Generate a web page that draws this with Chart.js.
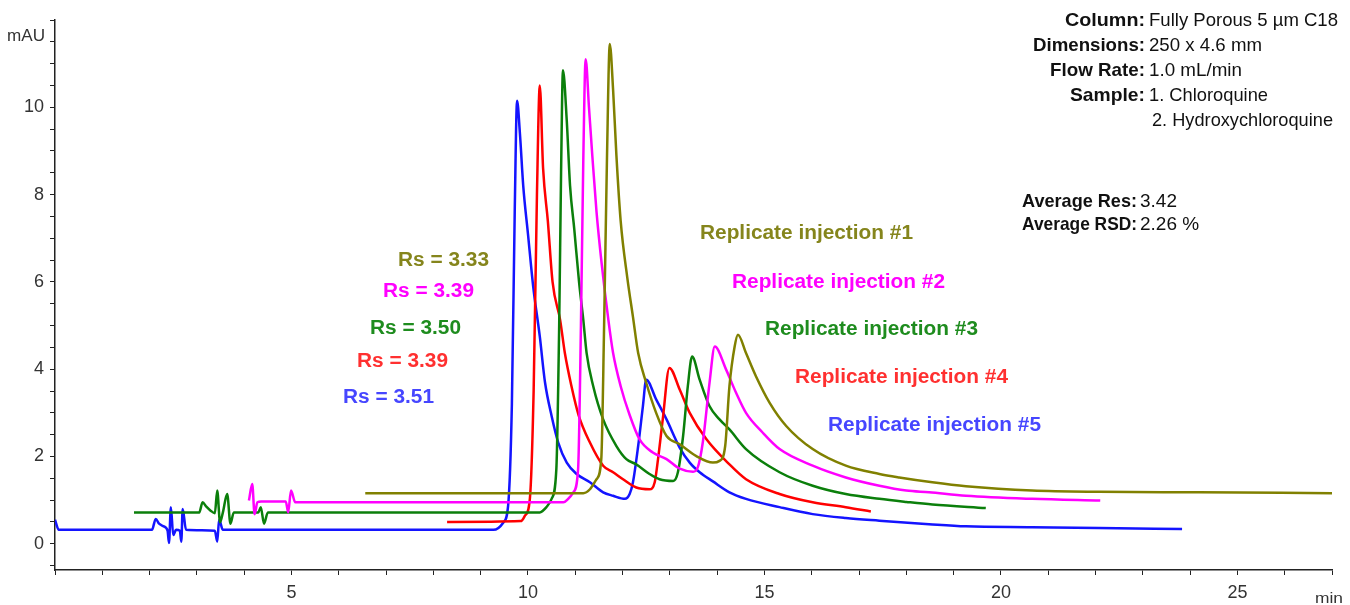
<!DOCTYPE html>
<html>
<head>
<meta charset="utf-8">
<script src="https://cdn.jsdelivr.net/npm/chart.js@4.4.0/dist/chart.umd.min.js"></script>
<style>
  html, body { margin: 0; padding: 0; background: #fff; }
  canvas { display: block; }
</style>
</head>
<body>
<canvas id="chrom" width="1350" height="605"></canvas>
<script>
var inj1Time = [6.56, 11.17, 11.31, 11.45, 11.55, 11.61, 11.67, 11.73, 11.8, 11.87, 11.96, 12.1, 12.22, 12.33, 12.5, 12.71, 12.93, 13.21, 13.56, 13.91, 14.05, 14.17, 14.26, 14.37, 14.44, 14.61, 14.82, 15.11, 15.46, 16.02, 16.72, 17.43, 17.85, 18.55, 19.26, 20.66, 22.07, 24.18, 27.0];
var inj1Abs  = [1.16, 1.16, 1.25, 1.48, 1.94, 5.0, 8.8, 11.45, 10.4, 8.9, 7.4, 6.1, 5.2, 4.37, 3.69, 3.0, 2.47, 2.28, 2.01, 1.86, 1.9, 2.24, 3.61, 4.52, 4.79, 4.37, 3.84, 3.23, 2.7, 2.17, 1.79, 1.6, 1.52, 1.41, 1.32, 1.22, 1.19, 1.18, 1.16];

var inj2Time = [4.1, 4.17, 4.22, 4.28, 4.36, 4.88, 4.93, 4.99, 5.08, 10.75, 10.85, 10.96, 11.06, 11.12, 11.17, 11.22, 11.29, 11.36, 11.45, 11.56, 11.7, 11.8, 11.96, 12.15, 12.36, 12.64, 12.93, 13.21, 13.49, 13.59, 13.7, 13.84, 13.95, 14.19, 14.4, 14.61, 14.96, 15.32, 16.02, 16.72, 17.43, 18.0, 18.48, 19.26, 20.66, 22.1];
var inj2Abs  = [0.99, 1.37, 0.68, 0.95, 0.97, 0.97, 0.72, 1.22, 0.95, 0.95, 1.03, 1.18, 1.71, 5.0, 8.8, 11.1, 10.0, 8.9, 7.6, 6.4, 5.13, 4.37, 3.61, 2.95, 2.39, 2.09, 1.94, 1.72, 1.65, 1.75, 2.35, 3.7, 4.52, 3.99, 3.46, 3.0, 2.55, 2.17, 1.79, 1.52, 1.33, 1.22, 1.18, 1.1, 1.03, 0.99];

var inj3Time = [1.67, 3.05, 3.12, 3.2, 3.29, 3.38, 3.43, 3.49, 3.55, 3.64, 3.71, 3.78, 4.3, 4.35, 4.42, 4.5, 10.25, 10.39, 10.5, 10.6, 10.66, 10.7, 10.74, 10.82, 10.89, 10.98, 11.08, 11.17, 11.24, 11.38, 11.59, 11.87, 12.08, 12.29, 12.57, 12.78, 13.07, 13.17, 13.28, 13.38, 13.47, 13.63, 13.84, 14.05, 14.26, 14.61, 15.32, 16.02, 16.72, 17.43, 18.0, 18.55, 19.68];
var inj3Abs  = [0.72, 0.72, 0.95, 0.85, 0.76, 0.7, 1.22, 0.49, 0.72, 1.14, 0.46, 0.72, 0.72, 0.84, 0.46, 0.72, 0.72, 0.84, 1.03, 1.71, 5.0, 8.5, 10.85, 9.7, 8.2, 7.2, 6.0, 5.13, 4.37, 3.61, 2.85, 2.24, 1.94, 1.82, 1.6, 1.48, 1.44, 1.64, 2.47, 3.61, 4.29, 3.76, 3.15, 2.85, 2.62, 2.17, 1.64, 1.33, 1.14, 1.03, 0.96, 0.9, 0.82];

var inj4Time = [8.29, 9.85, 9.94, 10.04, 10.12, 10.19, 10.25, 10.32, 10.42, 10.52, 10.68, 10.78, 10.92, 11.07, 11.31, 11.59, 11.8, 12.01, 12.29, 12.57, 12.68, 12.75, 12.85, 12.99, 13.21, 13.42, 13.77, 14.26, 14.61, 15.32, 16.02, 16.72, 17.25];
var inj4Abs  = [0.5, 0.52, 0.65, 1.03, 3.5, 8.0, 10.5, 8.6, 7.4, 6.0, 5.13, 4.37, 3.61, 2.95, 2.32, 1.79, 1.64, 1.48, 1.29, 1.25, 1.41, 1.94, 2.85, 4.03, 3.53, 3.0, 2.4, 1.82, 1.48, 1.14, 0.95, 0.84, 0.74];

var inj5Time = [0, 0.08, 2.05, 2.13, 2.2, 2.3, 2.38, 2.41, 2.45, 2.5, 2.56, 2.64, 2.67, 2.7, 2.77, 3.38, 3.43, 3.47, 3.55, 9.27, 9.48, 9.58, 9.66, 9.72, 9.77, 9.83, 9.9, 10.0, 10.11, 10.25, 10.36, 10.5, 10.64, 10.82, 11.03, 11.31, 11.59, 11.8, 12.05, 12.15, 12.22, 12.33, 12.43, 12.5, 12.71, 12.93, 13.21, 13.42, 13.63, 13.91, 14.26, 14.61, 15.32, 16.02, 16.72, 17.43, 18.48, 19.26, 20.66, 22.07, 23.83];
var inj5Abs  = [0.55, 0.32, 0.32, 0.57, 0.46, 0.4, 0.3, 0.02, 0.84, 0.2, 0.32, 0.3, 0.05, 0.8, 0.32, 0.3, 0.05, 0.55, 0.32, 0.32, 0.49, 0.87, 3.2, 7.6, 10.15, 9.4, 8.2, 7.1, 5.9, 4.75, 3.7, 2.93, 2.32, 1.86, 1.6, 1.41, 1.18, 1.1, 1.03, 1.14, 1.41, 2.24, 3.15, 3.76, 3.31, 2.85, 2.2, 1.86, 1.64, 1.43, 1.18, 1.03, 0.84, 0.68, 0.59, 0.53, 0.45, 0.4, 0.38, 0.36, 0.34];

var injectionNames = ['Replicate injection #1', 'Replicate injection #2', 'Replicate injection #3', 'Replicate injection #4', 'Replicate injection #5'];
var resolutions = ['3.33', '3.39', '3.50', '3.39', '3.51'];
var lineColors = ['#808000', '#ff00ff', '#0b7f0b', '#ff0000', '#1414ff'];
var textColors = ['#85851c', '#ff00ff', '#1e8c1e', '#ff3030', '#4646ff'];

var infoLabels = ['Column:', 'Dimensions:', 'Flow Rate:', 'Sample:'];
var infoValues = ['Fully Porous 5 \u00b5m C18', '250 x 4.6 mm', '1.0 mL/min', '1. Chloroquine', '2. Hydroxychloroquine'];
var summaryLabels = ['Average Res:', 'Average RSD:'];
var summaryValues = ['3.42', '2.26 %'];

var FONT = '"Liberation Sans", Arial, sans-serif';

function toPoints(ts, vs) {
    return ts.map(function(t, i) { return { x: t, y: vs[i] }; });
}

// draw text squeezed/stretched to a given width (the original uses a tight face)
function fitText(ctx, text, x, y, font, color, align, w) {
    ctx.save();
    ctx.font = font;
    ctx.fillStyle = color;
    ctx.textAlign = 'left';
    ctx.textBaseline = 'alphabetic';
    var m = ctx.measureText(text).width;
    var s = w ? w / m : 1;
    var left = align === 'right' ? x - m * s : x;
    ctx.translate(left, y);
    ctx.scale(s, 1);
    ctx.fillText(text, 0, 0);
    ctx.restore();
}

var annotations = {
    id: 'annotations',
    afterDraw: function(chart) {
        var ctx = chart.ctx;
        // axis units
        fitText(ctx, 'mAU', 7, 41, '16px ' + FONT, '#333', 'left', 38);
        fitText(ctx, 'min', 1315, 603, '15px ' + FONT, '#333', 'left', 28);

        // resolution labels
        var rsX = [398, 383, 370, 357, 343];
        var rsY = [266, 297, 334, 367, 403];
        resolutions.forEach(function(r, i) {
            fitText(ctx, 'Rs = ' + r, rsX[i], rsY[i], 'bold 20px ' + FONT, textColors[i], 'left', 91);
        });

        // injection labels
        var nX = [700, 732, 765, 795, 828];
        var nY = [239, 288, 335, 383, 431];
        injectionNames.forEach(function(n, i) {
            fitText(ctx, n, nX[i], nY[i], 'bold 21px ' + FONT, textColors[i], 'left', 213);
        });

        // method info block
        var rowY = [26, 51, 76, 101, 126];
        var labelW = [80, 112, 95, 75];
        infoLabels.forEach(function(l, i) {
            fitText(ctx, l, 1145, rowY[i], 'bold 19px ' + FONT, '#111', 'right', labelW[i]);
        });
        var valueX = [1149, 1149, 1149, 1149, 1152];
        var valueW = [189, 113, 93, 119, 181];
        infoValues.forEach(function(v, i) {
            fitText(ctx, v, valueX[i], rowY[i], '19px ' + FONT, '#111', 'left', valueW[i]);
        });

        var sumY = [207, 230];
        summaryLabels.forEach(function(l, i) {
            fitText(ctx, l, 1137, sumY[i], 'bold 19px ' + FONT, '#111', 'right', 115);
            fitText(ctx, summaryValues[i], 1140, sumY[i], '19px ' + FONT, '#111', 'left');
        });
    }
};

var traces = [
    toPoints(inj1Time, inj1Abs),
    toPoints(inj2Time, inj2Abs),
    toPoints(inj3Time, inj3Abs),
    toPoints(inj4Time, inj4Abs),
    toPoints(inj5Time, inj5Abs)
];

var datasets = traces.map(function(pts, i) {
    return {
        label: injectionNames[i],
        data: pts,
        borderColor: lineColors[i],
        borderWidth: 2.5,
        pointRadius: 0,
        fill: false,
        cubicInterpolationMode: 'monotone'
    };
});

var ctx = document.getElementById('chrom').getContext('2d');
var chart = new Chart(ctx, {
    type: 'line',
    data: { datasets: datasets },
    options: {
        responsive: false,
        animation: false,
        layout: { padding: { top: 20, right: 18, left: 0, bottom: 0 } },
        plugins: {
            legend: { display: false },
            tooltip: { enabled: false }
        },
        scales: {
            x: {
                type: 'linear',
                min: 0,
                max: 27,
                afterFit: function(scale) { scale.height = 35; },
                afterBuildTicks: function(scale) {
                    var t = [];
                    for (var v = 0; v <= 27; v++) t.push({ value: v });
                    scale.ticks = t;
                },
                ticks: {
                    autoSkip: false,
                    maxRotation: 0,
                    padding: 7,
                    color: '#333',
                    font: { family: FONT, size: 18 },
                    callback: function(v) { return (v > 0 && v % 5 === 0) ? String(v) : ''; }
                },
                grid: { drawOnChartArea: false, drawTicks: true, tickLength: 5, tickColor: '#222', tickWidth: 1 },
                border: { display: true, color: '#222', width: 1.5 }
            },
            y: {
                type: 'linear',
                min: -0.6,
                max: 12,
                afterFit: function(scale) { scale.width = 55; },
                afterBuildTicks: function(scale) {
                    var t = [];
                    for (var k = -1; k <= 24; k++) t.push({ value: k / 2 });
                    scale.ticks = t;
                },
                ticks: {
                    autoSkip: false,
                    padding: 6,
                    color: '#333',
                    font: { family: FONT, size: 18 },
                    callback: function(v) { return (v >= 0 && v <= 10 && v % 2 === 0) ? String(v) : ''; }
                },
                grid: { drawOnChartArea: false, drawTicks: true, tickLength: 5, tickColor: '#222', tickWidth: 1 },
                border: { display: true, color: '#222', width: 1.5 }
            }
        }
    },
    plugins: [annotations]
});
</script>
</body>
</html>
